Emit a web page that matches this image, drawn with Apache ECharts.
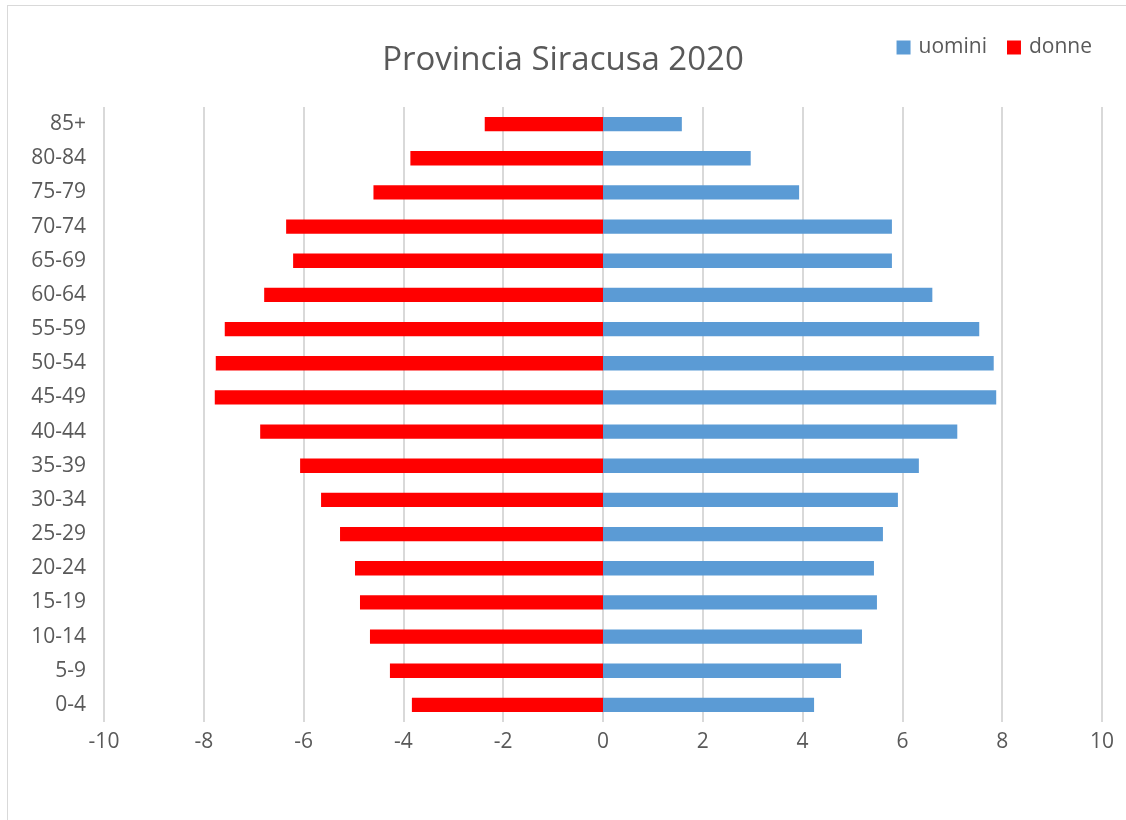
<!DOCTYPE html>
<html>
<head>
<meta charset="utf-8">
<script src="https://cdn.jsdelivr.net/npm/echarts@6/dist/echarts.min.js"></script>
<style>
  html, body { margin: 0; padding: 0; background: #fff; overflow: hidden; }
  #frame { position: absolute; left: 7px; top: 5px; width: 1200px; height: 900px; border: 1px solid #d9d9d9; box-sizing: border-box; }
  #chart { position: absolute; left: 0; top: 0; width: 1126px; height: 820px; }
</style>
</head>
<body>
<div id="frame"></div>
<div id="chart"></div>
<script>
const ageGroups = ['0-4', '5-9', '10-14', '15-19', '20-24', '25-29', '30-34', '35-39', '40-44',
  '45-49', '50-54', '55-59', '60-64', '65-69', '70-74', '75-79', '80-84', '85+']
const uomini = [4.23, 4.77, 5.19, 5.49, 5.43, 5.61, 5.91, 6.33, 7.10, 7.88, 7.83, 7.54, 6.60, 5.79, 5.79, 3.93, 2.96, 1.58]
const donne = [-3.83, -4.27, -4.67, -4.87, -4.97, -5.27, -5.65, -6.07, -6.87, -7.78, -7.76, -7.58, -6.79, -6.21, -6.35, -4.60, -3.86, -2.37]

const textColor = '#595959'
const font = 'Open Sans'

var myChart = echarts.init(document.getElementById('chart'))
var option = {
  animation: false,
  title: {
    text: 'Provincia Siracusa 2020',
    left: 'center',
    top: 39,
    textStyle: { fontFamily: font, fontSize: 33, fontWeight: 'normal', color: textColor }
  },
  legend: {
    data: ['uomini', 'donne'],
    right: 29,
    top: 32,
    icon: 'rect',
    itemWidth: 14,
    itemHeight: 14,
    itemGap: 20,
    textStyle: { fontFamily: font, fontSize: 21, color: textColor, padding: [0, 0, 0, 3] }
  },
  grid: { left: 104, right: 24, top: 107, bottom: 98 },
  xAxis: {
    type: 'value',
    min: -10,
    max: 10,
    interval: 2,
    axisLine: { show: false },
    axisTick: { show: false },
    axisLabel: { fontFamily: font, fontSize: 21, color: textColor, margin: 10 },
    splitLine: { lineStyle: { color: '#d9d9d9', width: 2 } }
  },
  yAxis: {
    type: 'category',
    data: ageGroups,
    axisLine: { show: false },
    axisTick: { show: false },
    axisLabel: { fontFamily: font, fontSize: 21, color: textColor, margin: 18 }
  },
  series: [
    {
      name: 'uomini',
      type: 'bar',
      data: uomini,
      barWidth: '42%',
      barGap: '-100%',
      itemStyle: { color: '#5b9bd5' }
    },
    {
      name: 'donne',
      type: 'bar',
      data: donne,
      barWidth: '42%',
      itemStyle: { color: '#ff0000' }
    }
  ]
}
myChart.setOption(option)
</script>
</body>
</html>
